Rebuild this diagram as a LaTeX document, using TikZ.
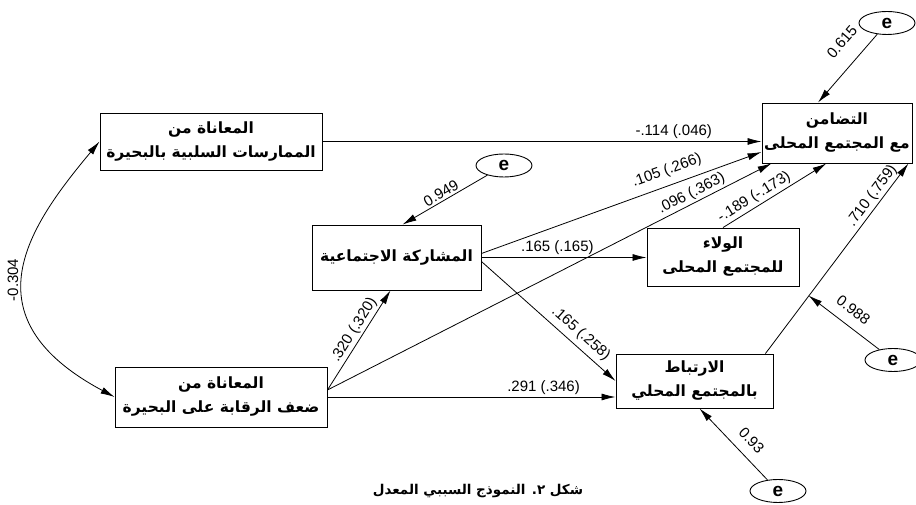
\documentclass[tikz,border=0pt]{standalone}
\usepackage{fontspec}
\setmainfont{Liberation Sans}
\newfontfamily\arabicfont[Script=Arabic]{DejaVu Sans}
\TeXXeTstate=1
\usepackage{tikz}
\usetikzlibrary{arrows.meta,positioning,shapes.geometric,calc}
\tikzset{
  var/.style={draw,line width=0.9pt,align=center,inner sep=1pt,
    font=\arabicfont\bfseries\fontsize{15.5}{24}\selectfont},
  err/.style={ellipse,draw,line width=0.9pt,minimum width=56pt,minimum height=23pt,
    inner sep=0pt,font=\bfseries\fontsize{19}{19}\selectfont},
  path/.style={line width=0.8pt,-{Latex[length=14pt,width=7pt]}},
  rpath/.style={line width=0.8pt,{Latex[length=14pt,width=7pt]}-},
  lbl/.style={font=\fontsize{15}{15}\selectfont,inner sep=2pt}
}
\begin{document}
\begin{tikzpicture}[x=1pt,y=1pt]
  \useasboundingbox (0,0) rectangle (916,505);

  % observed variables
  \node[var,minimum width=222pt,minimum height=57pt] (neg) at (211,363.5) {\beginR المعاناة من\endR\\\beginR الممارسات السلبية بالبحيرة\endR};
  \node[var,minimum width=212pt,minimum height=60pt] (weak) at (221,108) {\beginR المعاناة من\endR\\\beginR ضعف الرقابة على البحيرة\endR};
  \node[var,minimum width=169pt,minimum height=65pt] (part) at (396.5,247.5) {\beginR المشاركة الاجتماعية\endR};
  \node[var,minimum width=150pt,minimum height=60pt] (solid) at (837,372) {\beginR التضامن\endR\\\beginR مع المجتمع المحلى\endR};
  \node[var,minimum width=152pt,minimum height=58pt] (loyal) at (723,248) {\beginR الولاء\endR\\\beginR للمجتمع المحلى\endR};
  \node[var,minimum width=157pt,minimum height=54pt] (attach) at (694.5,124) {\beginR الارتباط\endR\\\beginR بالمجتمع المحلي\endR};

  % error terms
  \node[err] (e1) at (887,482) {e};
  \node[err] (e2) at (504,339.5) {e};
  \node[err] (e3) at (893,145) {e};
  \node[err] (e4) at (778,14) {e};

  % paths
  \draw[path] (neg.east) -- node[lbl,pos=0.8,above] {-.114 (.046)} (neg.east -| solid.west);
  \draw[path] ([yshift=4pt]part.east) -- node[lbl,pos=0.68,sloped,above=5pt] {.105 (.266)} ([yshift=-19pt]solid.west);
  \draw[path] ([yshift=7pt]weak.east) -- node[lbl,pos=0.83,sloped,above] {.096 (.363)} ([xshift=10pt]solid.south west);
  \draw[path] (part.east) -- node[lbl,pos=0.46,above] {.165 (.165)} (part.east -| loyal.west);
  \draw[path] ([yshift=-4pt]part.east) -- node[lbl,pos=0.68,sloped,above=3pt] {.165 (.258)} (attach.west);
  \draw[path] (weak.east) -- node[lbl,pos=0.75,above] {.291 (.346)} (weak.east -| attach.west);
  \draw[path] ([yshift=7pt]weak.east) -- node[lbl,pos=0.55,sloped,above] {.320 (.320)} ([xshift=-6pt]part.south);
  \draw[path] (loyal.north) -- node[lbl,pos=0.35,sloped,above] {-.189 (-.173)} ($(solid.south west)!0.43!(solid.south east)$);
  \draw[path] ([xshift=-8pt]attach.north east) -- node[lbl,pos=0.8,sloped,above] {.710 (.759)} ([xshift=-4pt]solid.south east);

  % residuals
  \draw[rpath] ([xshift=-19pt]solid.north) -- node[lbl,pos=0.68,sloped,above=14pt] {0.615} (e1);
  \draw[rpath] ([xshift=6pt]part.north) -- node[lbl,pos=0.5,sloped,above] {0.949} (e2);
  \draw[rpath] ([xshift=9pt,yshift=-9pt]loyal.south east) -- node[lbl,pos=0.5,sloped,above=8pt] {0.988} (e3);
  \draw[rpath] ([xshift=5pt]attach.south) -- node[lbl,pos=0.6,sloped,above=8pt] {0.93} (e4);

  % covariance
  \draw[line width=0.8pt,{Latex[length=14pt,width=7pt]}-{Latex[length=14pt,width=7pt]}]
    (neg.west) .. controls (29,279) and (-35,188) .. (weak.west);
  \node[lbl,rotate=90] (cov) at (13,225) {-0.304};

  \node[font=\arabicfont\bfseries\fontsize{13.5}{13.5}\selectfont] (cap) at (478,14) {\beginR شكل ٢. النموذج السببي المعدل\endR};
\end{tikzpicture}
\end{document}
